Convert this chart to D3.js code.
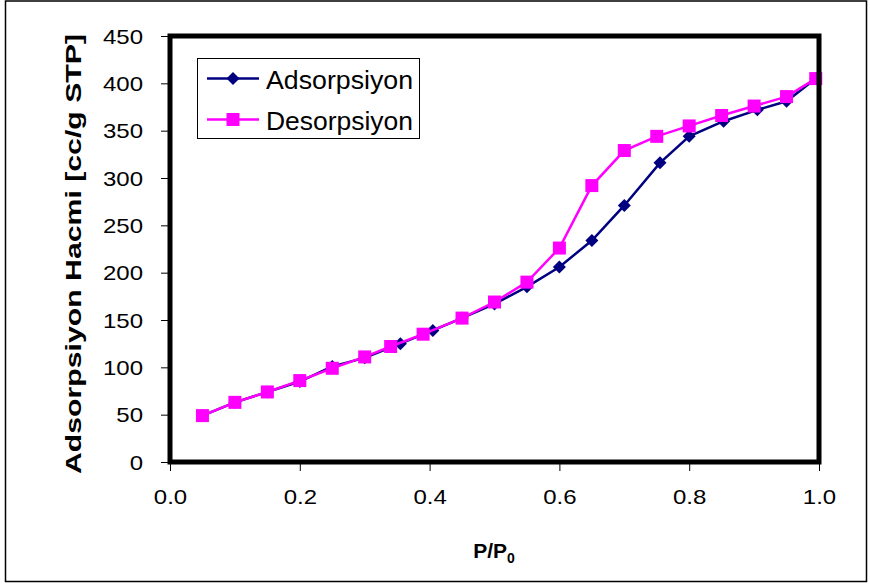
<!DOCTYPE html>
<html>
<head>
<meta charset="utf-8">
<script src="https://cdn.jsdelivr.net/npm/d3@7"></script>
<style>
  body { margin: 0; background: #fff; }
  svg { display: block; font-family: "Liberation Sans", Arial, sans-serif; }
</style>
</head>
<body>
<svg id="chart" width="870" height="585"></svg>
<script>
// values
const adsX = [0.05, 0.10, 0.15, 0.20, 0.25, 0.30, 0.355, 0.405, 0.45, 0.50, 0.55, 0.60, 0.65, 0.70, 0.755, 0.80, 0.853, 0.905, 0.95, 0.995];
const adsY = [49, 63, 74, 85, 101, 110, 125, 139, 152, 167, 185, 206, 234, 271, 316, 344, 360, 372, 381, 405];
const desX = [0.05, 0.10, 0.15, 0.20, 0.25, 0.30, 0.34, 0.39, 0.45, 0.50, 0.55, 0.60, 0.65, 0.70, 0.75, 0.80, 0.85, 0.90, 0.95, 0.995];
const desY = [49, 63, 74, 86, 99, 111, 122, 135, 152, 169, 190, 226, 292, 329, 344, 355, 366, 376, 386, 405];
const xTicks = [0, 0.2, 0.4, 0.6, 0.8, 1.0];
const yTicks = [0, 50, 100, 150, 200, 250, 300, 350, 400, 450];
const seriesNames = ['Adsorpsiyon', 'Desorpsiyon'];

const svg = d3.select('#chart');
const plotL = 170, plotR = 819, plotT = 36, plotB = 462;

const x = d3.scaleLinear().domain([0, 1]).range([plotL, plotR]);
const y = d3.scaleLinear().domain([0, 450]).range([plotB, plotT]);

// outer border
svg.append('rect')
  .attr('x', 5.5).attr('y', 1).attr('width', 861).attr('height', 580.5)
  .attr('fill', 'none').attr('stroke', '#000').attr('stroke-width', 1.5);

// axes (ticks outside the frame)
const yAxis = svg.append('g')
  .attr('transform', `translate(${plotL},0)`)
  .call(d3.axisLeft(y).tickValues(yTicks).tickSize(9).tickFormat(d3.format('d')));
yAxis.select('.domain').remove();
yAxis.selectAll('line').attr('stroke', '#000').attr('stroke-width', 1);
yAxis.selectAll('text')
  .attr('font-size', 20).attr('fill', '#000')
  .attr('font-family', '"Liberation Sans", Arial, sans-serif')
  .attr('x', -27 / 1.2).attr('dy', '0.36em')
  .attr('transform', 'scale(1.2,1)');

const xAxis = svg.append('g')
  .attr('transform', `translate(0,${plotB})`)
  .call(d3.axisBottom(x).tickValues(xTicks).tickSize(9).tickFormat(d3.format('.1f')));
xAxis.select('.domain').remove();
xAxis.selectAll('line').attr('stroke', '#000').attr('stroke-width', 1);
xAxis.selectAll('text')
  .attr('font-size', 20).attr('fill', '#000')
  .attr('font-family', '"Liberation Sans", Arial, sans-serif')
  .attr('y', 42).attr('dy', 0)
  .attr('transform', 'scale(1.2,1)');

// axis titles
svg.append('text')
  .attr('transform', 'translate(81,254) rotate(-90)')
  .attr('text-anchor', 'middle')
  .attr('font-size', 22).attr('font-weight', 'bold')
  .attr('textLength', 440).attr('lengthAdjust', 'spacingAndGlyphs')
  .text('Adsorpsiyon Hacmi [cc/g STP]');

const xt = svg.append('text')
  .attr('x', 494).attr('y', 558)
  .attr('text-anchor', 'middle')
  .attr('font-size', 21).attr('font-weight', 'bold');
xt.append('tspan').text('P/P');
xt.append('tspan').attr('font-size', 14).attr('dy', 5).text('0');

// series
const adsData = adsX.map((v, i) => [v, adsY[i]]);
const desData = desX.map((v, i) => [v, desY[i]]);
const line = d3.line().x(d => x(d[0])).y(d => y(d[1]));

const diamond = (s) => `M0,${-s}L${s},0L0,${s}L${-s},0Z`;

svg.append('path').datum(adsData)
  .attr('d', line).attr('fill', 'none')
  .attr('stroke', '#000080').attr('stroke-width', 2.5);
svg.append('g').selectAll('path').data(adsData).join('path')
  .attr('transform', d => `translate(${x(d[0])},${y(d[1])})`)
  .attr('d', diamond(6.5)).attr('fill', '#000080');

svg.append('path').datum(desData)
  .attr('d', line).attr('fill', 'none')
  .attr('stroke', '#ff00ff').attr('stroke-width', 2.5);
svg.append('g').selectAll('rect').data(desData).join('rect')
  .attr('x', d => x(d[0]) - 6.5).attr('y', d => y(d[1]) - 6.5)
  .attr('width', 13).attr('height', 13).attr('fill', '#ff00ff');

// plot frame
svg.append('rect')
  .attr('x', plotL).attr('y', plotT).attr('width', plotR - plotL).attr('height', plotB - plotT)
  .attr('fill', 'none').attr('stroke', '#000').attr('stroke-width', 5);

// legend
const lg = svg.append('g');
lg.append('rect')
  .attr('x', 197.5).attr('y', 58.5).attr('width', 222).attr('height', 80)
  .attr('fill', '#fff').attr('stroke', '#000').attr('stroke-width', 1);
const legendRows = [
  { name: seriesNames[0], color: '#000080', y: 78.5, mark: 'diamond' },
  { name: seriesNames[1], color: '#ff00ff', y: 119.5, mark: 'square' }
];
legendRows.forEach(r => {
  lg.append('line')
    .attr('x1', 207).attr('x2', 259).attr('y1', r.y).attr('y2', r.y)
    .attr('stroke', r.color).attr('stroke-width', 2.5);
  if (r.mark === 'diamond') {
    lg.append('path').attr('transform', `translate(233,${r.y})`)
      .attr('d', diamond(6.5)).attr('fill', r.color);
  } else {
    lg.append('rect').attr('x', 226.5).attr('y', r.y - 6.5)
      .attr('width', 13).attr('height', 13).attr('fill', r.color);
  }
  lg.append('text')
    .attr('x', 266).attr('y', r.y + 10)
    .attr('font-size', 26).attr('fill', '#000')
    .attr('textLength', 147).attr('lengthAdjust', 'spacingAndGlyphs')
    .text(r.name);
});
</script>
</body>
</html>
